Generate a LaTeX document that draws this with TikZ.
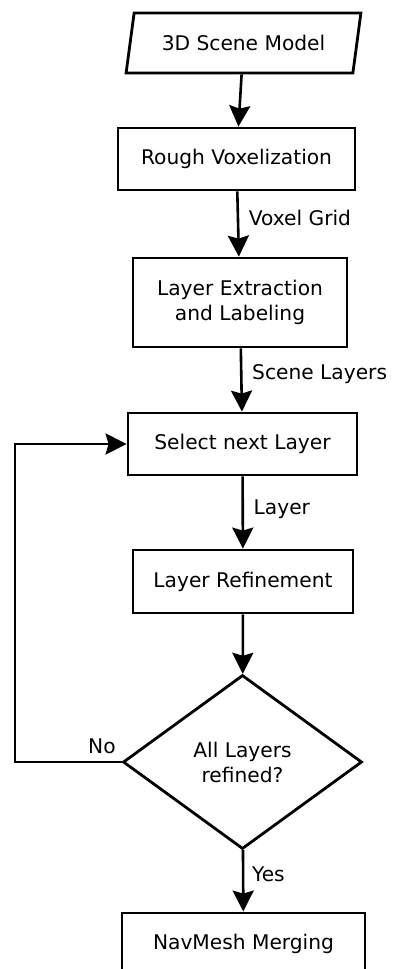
\documentclass[tikz,border=0pt]{standalone}
\usepackage{fontspec}
\setmainfont{DejaVu Sans}
\usetikzlibrary{shapes.geometric, arrows.meta}

\begin{document}
\begin{tikzpicture}[x=0.5pt, y=-0.5pt,
    every node/.style={font=\fontsize{10.1}{12.5}\selectfont},
    block/.style={draw, line width=1.4pt, align=center, inner sep=0pt},
    arrow/.style={-{Stealth[length=10.5pt, width=10.5pt, inset=1.5pt]}, line width=1.3pt},
    lbl/.style={right, xshift=1.5pt}]

\clip (0,0) rectangle (392,969);

% --- input ------------------------------------------------------------------
\node[block, trapezium, trapezium left angle=69, trapezium right angle=111,
      trapezium stretches=true, minimum width=118.5pt, minimum height=30pt]
  (model) at (243.5,43) {3D Scene Model};

% --- voxelization and layers -----------------------------------------------
\node[block, minimum width=118.5pt, minimum height=31pt]
  (rough) at (236.5,159) {Rough Voxelization};
\node[block, minimum width=107pt, minimum height=44.5pt]
  (extract) at (240,302.5) {Layer Extraction\\and Labeling};

% --- refinement loop --------------------------------------------------------
\node[block, minimum width=114.5pt, minimum height=31pt]
  (select) at (242.5,444) {Select next Layer};
\node[block, minimum width=110pt, minimum height=31.5pt]
  (refine) at (243,581.5) {Layer Refinement};
\node[block, diamond, minimum width=119.5pt, minimum height=87pt]
  (decide) at (242.5,762) {All Layers\\refined?};

% --- output -----------------------------------------------------------------
\node[block, minimum width=121.5pt, minimum height=31pt]
  (merge) at (243.5,944) {NavMesh Merging};

\coordinate (loopx) at (15,0);

\draw[arrow] (model) -- (rough);
\draw[arrow] (rough) -- node[lbl, pos=0.4] {Voxel Grid} (extract);
\draw[arrow] (extract) -- node[lbl, pos=0.4] {Scene Layers} (select);
\draw[arrow] (select) -- node[lbl, pos=0.45] {Layer} (refine);
\draw[arrow] (refine) -- (decide);
\draw[arrow] (decide) -- node[lbl, pos=0.4, xshift=-1pt] {Yes} (merge);
\draw[arrow] (decide.west) node[above left, xshift=1pt] {No}
  -- (decide.west -| loopx) |- (select.west);

\end{tikzpicture}
\end{document}
